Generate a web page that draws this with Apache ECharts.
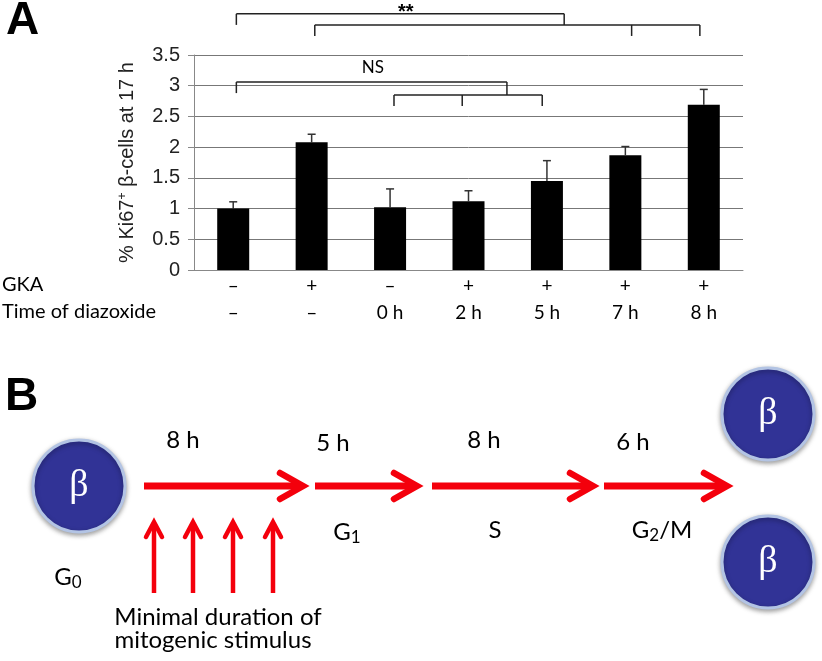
<!DOCTYPE html>
<html>
<head>
<meta charset="utf-8">
<script src="https://cdn.jsdelivr.net/npm/echarts@6/dist/echarts.min.js"></script>
<style>html,body{margin:0;padding:0;background:#fff}#c{width:822px;height:661px}</style>
</head>
<body>
<div id="c"></div>
<script>
// ---- Panel A data ----
const categories = ['c1','c2','c3','c4','c5','c6','c7'];
const gkaLabels = ['–','+','–','+','+','+','+'];
const diazoxideLabels = ['–','–','0 h','2 h','5 h','7 h','8 h'];
const meanValues = [1.00, 2.08, 1.02, 1.12, 1.45, 1.87, 2.69];
const errorUpper = [1.11, 2.21, 1.32, 1.29, 1.78, 2.01, 2.94];
const yTicks = [0, 0.5, 1, 1.5, 2, 2.5, 3, 3.5];
// significance brackets: horizontal lines [xStart, xEnd, y] (x in category units)
const bracketLines = [[0.04, 4.22, 4.17], [1.04, 5.95, 3.99], [0.04, 3.49, 3.06], [2.05, 3.94, 2.85]];
// vertical ticks [x, yTop, yBottom]
const bracketTicks = [[0.04, 4.17, 3.99], [4.22, 4.17, 3.99], [1.04, 3.99, 3.81], [5.08, 3.99, 3.81], [5.95, 3.99, 3.81],
  [0.04, 3.06, 2.88], [3.49, 3.06, 2.85], [2.05, 2.85, 2.67], [2.92, 2.85, 2.67], [3.94, 2.85, 2.67]];
const bracketLabels = [[2.2, 4.25, '**'], [1.78, 3.3, 'NS']];
// ---- Panel B text ----
const phaseDurations = ['8 h', '5 h', '8 h', '6 h'];
const phaseNames = ['G{s|1}', 'S', 'G{s|2}/M'];
const stimulusText = ['Minimal duration of', 'mitogenic stimulus'];

const chart = echarts.init(document.getElementById('c'));
const calib = 'Lato, "Open Sans", sans-serif';
const arial = '"Liberation Sans", Arial, sans-serif';
const red = '#f4000c';

function arrowRight(x1, x2, y) {
  return [
    {type: 'line', shape: {x1: x1, y1: y, x2: x2 - 4, y2: y}, style: {stroke: red, lineWidth: 7}},
    {type: 'polyline', shape: {points: [[x2 - 23, y - 13], [x2, y], [x2 - 23, y + 13]]},
      style: {stroke: red, lineWidth: 6.5, fill: null, lineJoin: 'miter', lineCap: 'round'}}
  ];
}
function arrowUp(x, yBottom, yTop) {
  return [
    {type: 'line', shape: {x1: x, y1: yBottom, x2: x, y2: yTop + 3}, style: {stroke: red, lineWidth: 4.5}},
    {type: 'polyline', shape: {points: [[x - 8, yTop + 15], [x, yTop], [x + 8, yTop + 15]]},
      style: {stroke: red, lineWidth: 4.5, fill: null, lineJoin: 'miter', lineCap: 'round'}}
  ];
}
function cell(cx, cy) {
  return [
    {type: 'circle', shape: {cx: cx, cy: cy, r: 46},
      style: {fill: '#313396', stroke: '#b3c4e4', lineWidth: 3, shadowBlur: 5, shadowColor: 'rgba(0,0,0,0.35)', shadowOffsetY: 2}},
    {type: 'text', style: {x: cx, y: cy, text: 'β', fill: '#fff', font: '38px "Liberation Serif", "DejaVu Serif", serif',
      textAlign: 'center', textVerticalAlign: 'middle'}}
  ];
}
function txt(x, y, text, size, extra) {
  return Object.assign({type: 'text', style: Object.assign({x: x, y: y, text: text, fill: '#000',
    font: size + 'px ' + calib, textAlign: 'center', textVerticalAlign: 'middle'}, extra || {})});
}
const subRich = {s: {fontSize: 17, padding: [12, 0, 0, 0], fontFamily: 'Lato'}};

const graphics = [
  {type: 'text', style: {x: 6, y: 21, text: 'A', font: 'bold 46px ' + arial, fill: '#000', textVerticalAlign: 'middle'}},
  {type: 'text', style: {x: 5, y: 397, text: 'B', font: 'bold 46px ' + arial, fill: '#000', textVerticalAlign: 'middle'}},
  txt(2, 285, 'GKA', 20, {textAlign: 'left'}),
  txt(2, 312, 'Time of diazoxide', 20, {textAlign: 'left'}),
  ...cell(79, 486), ...cell(768, 414), ...cell(768, 562),
  ...arrowRight(144, 303, 486), ...arrowRight(315, 417, 486), ...arrowRight(432, 593, 486), ...arrowRight(604, 727, 486),
  ...arrowUp(154, 593, 522), ...arrowUp(193, 593, 522), ...arrowUp(233, 593, 522), ...arrowUp(273, 593, 522),
  txt(183, 440, phaseDurations[0], 24), txt(333, 443, phaseDurations[1], 24),
  txt(484, 440, phaseDurations[2], 24), txt(633, 442, phaseDurations[3], 24),
  {type: 'text', style: {x: 347, y: 532, text: phaseNames[0], font: '24px ' + calib, fill: '#000', textAlign: 'center', textVerticalAlign: 'middle', rich: subRich}},
  txt(495, 530, phaseNames[1], 24),
  {type: 'text', style: {x: 662, y: 530, text: phaseNames[2], font: '24px ' + calib, fill: '#000', textAlign: 'center', textVerticalAlign: 'middle', rich: subRich}},
  {type: 'text', style: {x: 68, y: 577, text: 'G{s|0}', font: '24px ' + calib, fill: '#000', textAlign: 'center', textVerticalAlign: 'middle', rich: subRich}},
  txt(218, 617, stimulusText[0], 24), txt(213, 640, stimulusText[1], 24)
];

const option = {
  backgroundColor: '#fff',
  animation: false,
  grid: {left: 194, right: 79, top: 55, bottom: 391, containLabel: false},
  xAxis: [
    {type: 'category', data: categories,
      axisLine: {show: true, onZero: false, lineStyle: {color: '#888', width: 1}},
      axisTick: {show: false},
      axisLabel: {margin: 2, interval: 0, color: '#000', lineHeight: 27,
        formatter: (v, i) => '{g|' + gkaLabels[i] + '}\n{t|' + diazoxideLabels[i] + '}',
        rich: {g: {fontSize: 19, fontFamily: 'Lato', lineHeight: 27, color: '#000'},
               t: {fontSize: 19, fontFamily: 'Lato', lineHeight: 27, color: '#000'}}}},
    {type: 'value', min: -0.5, max: 6.5, show: false}
  ],
  yAxis: {type: 'value', min: 0, max: 3.5, interval: 0.5,
    name: '% Ki67{sup|+} β-cells at 17 h', nameLocation: 'middle', nameGap: 56, nameRotate: 90,
    nameTextStyle: {fontFamily: arial, fontSize: 20, color: '#222',
      rich: {sup: {fontSize: 12, fontFamily: arial, verticalAlign: 'top', padding: [0, 0, 9, 0], color: '#222'}}},
    axisLine: {show: true, onZero: false, lineStyle: {color: '#888'}},
    axisTick: {show: true, length: 6, lineStyle: {color: '#888'}},
    axisLabel: {margin: 14, fontFamily: arial, fontSize: 20, color: '#222'},
    splitLine: {show: true, lineStyle: {color: '#777', width: 1}}},
  series: [
    {type: 'bar', data: meanValues, barWidth: 32, itemStyle: {color: '#000'}, xAxisIndex: 0},
    {type: 'custom', xAxisIndex: 0, clip: false,
      data: meanValues.map((v, i) => [i, v, errorUpper[i]]),
      renderItem: (params, api) => {
        const p0 = api.coord([api.value(0), api.value(1)]);
        const p1 = api.coord([api.value(0), api.value(2)]);
        return {type: 'group', children: [
          {type: 'line', shape: {x1: p0[0], y1: p0[1], x2: p1[0], y2: p1[1]}, style: {stroke: '#333', lineWidth: 1.5}},
          {type: 'line', shape: {x1: p1[0] - 4, y1: p1[1], x2: p1[0] + 4, y2: p1[1]}, style: {stroke: '#333', lineWidth: 1.5}}
        ]};
      }},
    {type: 'custom', xAxisIndex: 1, clip: false, data: bracketLines,
      renderItem: (params, api) => {
        const a = api.coord([api.value(0), api.value(2)]);
        const b = api.coord([api.value(1), api.value(2)]);
        return {type: 'line', shape: {x1: a[0], y1: a[1], x2: b[0], y2: b[1]}, style: {stroke: '#222', lineWidth: 1.5}};
      }},
    {type: 'custom', xAxisIndex: 1, clip: false, data: bracketTicks,
      renderItem: (params, api) => {
        const a = api.coord([api.value(0), api.value(1)]);
        const b = api.coord([api.value(0), api.value(2)]);
        return {type: 'line', shape: {x1: a[0], y1: a[1], x2: b[0], y2: b[1]}, style: {stroke: '#222', lineWidth: 1.5}};
      }},
    {type: 'custom', xAxisIndex: 1, clip: false, data: bracketLabels,
      renderItem: (params, api) => {
        const a = api.coord([api.value(0), api.value(1)]);
        const d = bracketLabels[params.dataIndex];
        const big = d[2] === '**';
        return {type: 'text', style: {x: a[0], y: big ? a[1] + 4 : a[1], text: d[2], fill: '#000',
          font: big ? 'bold 20px "Liberation Sans", sans-serif' : '17px Lato, sans-serif',
          textAlign: 'center', textVerticalAlign: 'middle'}};
      }}
  ],
  graphic: graphics
};
chart.setOption(option);
</script>
</body>
</html>
